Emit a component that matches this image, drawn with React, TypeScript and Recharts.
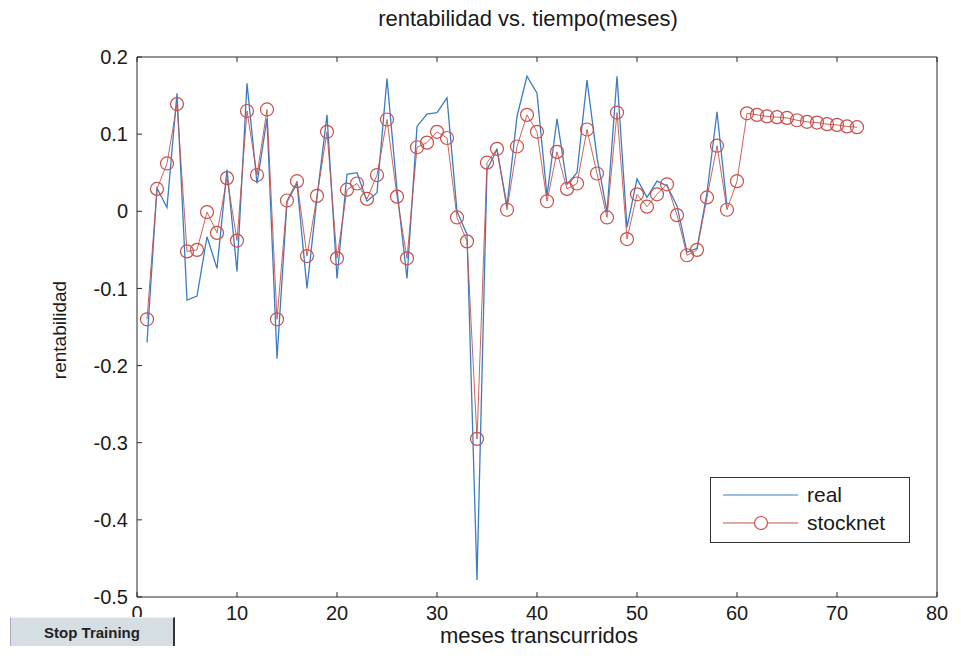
import React from 'react';
import { LineChart, Line, XAxis, YAxis } from 'recharts';

const months = Array.from({ length: 72 }, (_, i) => i + 1);

// rentabilidad real (meses 1..59)
const realValues = [
  -0.170, 0.030, 0.005, 0.153, -0.115, -0.110, -0.033, -0.074, 0.054, -0.078,
  0.166, 0.036, 0.120, -0.191, 0.012, 0.036, -0.100, 0.018, 0.125, -0.087,
  0.048, 0.050, 0.013, 0.024, 0.172, 0.028, -0.087, 0.110, 0.126, 0.128,
  0.147, 0.000, -0.030, -0.478, 0.054, 0.080, 0.007, 0.123, 0.175, 0.153,
  0.020, 0.120, 0.035, 0.050, 0.170, 0.070, -0.001, 0.175, -0.021, 0.042,
  0.018, 0.039, 0.033, 0.007, -0.053, -0.048, 0.024, 0.129, 0.006,
];

// salida de la red (meses 1..72)
const stocknetValues = [
  -0.140, 0.029, 0.062, 0.139, -0.052, -0.050, -0.001, -0.028, 0.043, -0.038,
  0.130, 0.047, 0.132, -0.140, 0.014, 0.039, -0.058, 0.020, 0.103, -0.061,
  0.028, 0.036, 0.016, 0.047, 0.119, 0.019, -0.061, 0.083, 0.089, 0.103,
  0.095, -0.008, -0.039, -0.295, 0.063, 0.081, 0.002, 0.084, 0.125, 0.103,
  0.013, 0.077, 0.029, 0.036, 0.106, 0.049, -0.008, 0.128, -0.036, 0.022,
  0.006, 0.022, 0.035, -0.005, -0.057, -0.050, 0.018, 0.085, 0.002, 0.039,
  0.127, 0.125, 0.123, 0.122, 0.121, 0.118, 0.116, 0.115, 0.113, 0.112,
  0.110, 0.109,
];

const xTicks = [0, 10, 20, 30, 40, 50, 60, 70, 80];
const yTicks = [-0.5, -0.4, -0.3, -0.2, -0.1, 0, 0.1, 0.2];

const data = months.map((m, i) => ({
  mes: m,
  real: i < realValues.length ? realValues[i] : null,
  stocknet: stocknetValues[i],
}));

const BLUE = '#3b7dc4';
const RED = '#c9504a';
const AXIS = '#2a2a2a';
const FONT = '"Liberation Sans", Arial, Helvetica, sans-serif';

const tickStyle = { fill: '#1a1a1a', fontSize: 20, fontFamily: FONT };

const fmtY = (v: number) => (v === 0 ? '0' : String(Number(v.toFixed(1))));

const RingDot = (props: any) => {
  const { cx, cy, index } = props;
  if (cx == null || cy == null) return <g key={index} />;
  return <circle key={index} cx={cx} cy={cy} r={6.5} fill="none" stroke={RED} strokeWidth={1.2} />;
};

const LegendBox = () => (
  <div
    style={{
      position: 'absolute',
      left: 710,
      top: 477,
      border: '1.5px solid #333',
      background: '#fff',
      width: 200,
      height: 66,
      boxSizing: 'border-box',
      fontFamily: FONT,
      fontSize: 21,
      color: '#1a1a1a',
      padding: '3px 0 0 12px',
    }}
  >
    <div style={{ display: 'flex', alignItems: 'center', height: 28 }}>
      <svg width={76} height={12}>
        <line x1={0} y1={6} x2={75} y2={6} stroke={BLUE} strokeWidth={1} />
      </svg>
      <span style={{ marginLeft: 8 }}>real</span>
    </div>
    <div style={{ display: 'flex', alignItems: 'center', height: 28 }}>
      <svg width={76} height={16}>
        <line x1={0} y1={8} x2={75} y2={8} stroke={RED} strokeWidth={1} />
        <circle cx={38} cy={8} r={6.5} fill="#fff" stroke={RED} strokeWidth={1.2} />
      </svg>
      <span style={{ marginLeft: 8 }}>stocknet</span>
    </div>
  </div>
);

export default function App() {
  return (
    <div style={{ position: 'absolute', left: 0, top: 0, width: 961, height: 669, background: '#fff' }}>
      <div
        style={{
          position: 'absolute',
          left: 0,
          width: 1056,
          top: 6,
          textAlign: 'center',
          fontFamily: FONT,
          fontSize: 22,
          color: '#1a1a1a',
        }}
      >
        rentabilidad vs. tiempo(meses)
      </div>
      <div
        style={{
          position: 'absolute',
          left: 60,
          top: 330,
          transform: 'translate(-50%, -50%) rotate(-90deg)',
          fontFamily: FONT,
          fontSize: 19,
          color: '#1a1a1a',
          whiteSpace: 'nowrap',
        }}
      >
        rentabilidad
      </div>
      <div
        style={{
          position: 'absolute',
          left: 0,
          width: 1078,
          top: 624,
          lineHeight: '24px',
          textAlign: 'center',
          fontFamily: FONT,
          fontSize: 22,
          color: '#1a1a1a',
        }}
      >
        meses transcurridos
      </div>
      <LineChart
        width={961}
        height={669}
        data={data}
        margin={{ top: 56, right: 23, bottom: 42, left: 77 }}
      >
        <XAxis
          xAxisId="b"
          dataKey="mes"
          type="number"
          domain={[0, 80]}
          ticks={xTicks}
          interval={0}
          height={30}
          stroke={AXIS}
          tickSize={-5}
          tickMargin={14}
          tick={tickStyle}
        />
        <XAxis
          xAxisId="t"
          dataKey="mes"
          orientation="top"
          type="number"
          domain={[0, 80]}
          ticks={xTicks}
          interval={0}
          height={1}
          stroke={AXIS}
          tickSize={-5}
          tickFormatter={() => ''}
        />
        <YAxis
          yAxisId="l"
          type="number"
          domain={[-0.5, 0.2]}
          ticks={yTicks}
          interval={0}
          width={60}
          stroke={AXIS}
          tickSize={-5}
          tickMargin={14}
          tick={tickStyle}
          tickFormatter={fmtY}
        />
        <YAxis
          yAxisId="r"
          orientation="right"
          type="number"
          domain={[-0.5, 0.2]}
          ticks={yTicks}
          interval={0}
          width={1}
          stroke={AXIS}
          tickSize={-5}
          tickFormatter={() => ''}
        />
        <Line
          xAxisId="b"
          yAxisId="l"
          type="linear"
          dataKey="real"
          name="real"
          stroke={BLUE}
          strokeWidth={1.3}
          dot={false}
          activeDot={false}
          isAnimationActive={false}
        />
        <Line
          xAxisId="b"
          yAxisId="l"
          type="linear"
          dataKey="stocknet"
          name="stocknet"
          stroke={RED}
          strokeWidth={0.9}
          dot={<RingDot />}
          activeDot={false}
          isAnimationActive={false}
        />
      </LineChart>
      <LegendBox />
      <div
        style={{
          position: 'absolute',
          left: 10,
          top: 617,
          width: 165,
          height: 29,
          background: '#d5dee2',
          borderLeft: '1px solid #aab',
          borderTop: '1px solid #eef',
          borderRight: '2px solid #333',
          boxSizing: 'border-box',
          fontFamily: FONT,
          fontSize: 15,
          fontWeight: 'bold',
          color: '#222',
          display: 'flex',
          alignItems: 'center',
          justifyContent: 'center',
        }}
      >
        Stop Training
      </div>
    </div>
  );
}
